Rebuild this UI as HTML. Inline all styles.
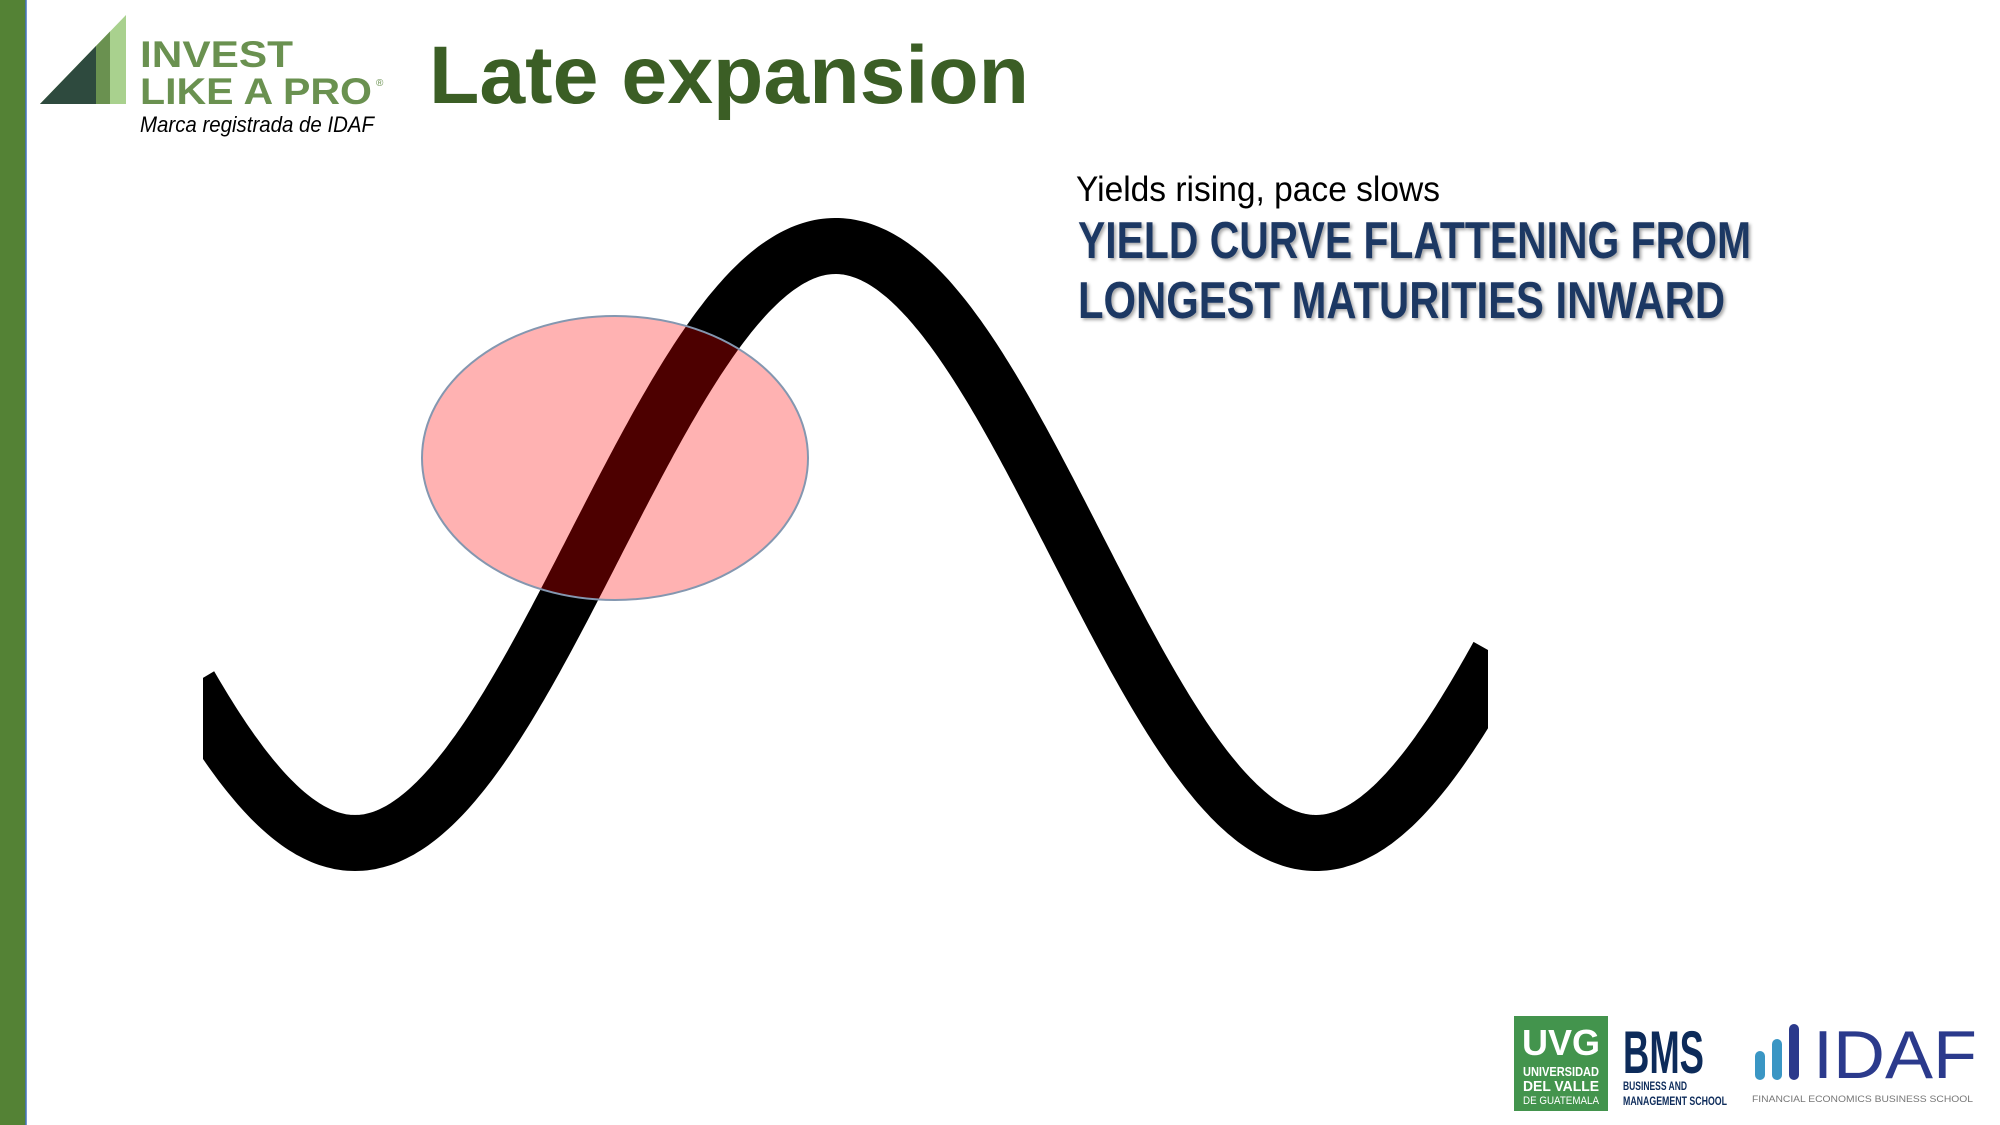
<!DOCTYPE html>
<html><head><meta charset="utf-8"><style>
html,body{margin:0;padding:0;background:#fff;}
svg{display:block;}
</style></head><body>
<svg id="slide" width="2000" height="1125" viewBox="0 0 2000 1125" xmlns="http://www.w3.org/2000/svg">
<defs>
<clipPath id="waveclip"><rect x="203" y="0" width="1285" height="1125"/></clipPath>
<filter id="sh" x="-5%" y="-20%" width="110%" height="150%"><feDropShadow dx="2" dy="2" stdDeviation="1.5" flood-color="#000" flood-opacity="0.35"/></filter>
</defs>
<rect x="0" y="0" width="2000" height="1125" fill="#fff"/>
<rect x="0" y="0" width="26" height="1125" fill="#548235"/>
<line x1="26" y1="0" x2="26" y2="1125" stroke="#4472c4" stroke-width="1.5"/>

<g>
<polygon points="40,104 126,15 126,104" fill="#a9d18e"/>
<polygon points="40,104 110,31.5 110,104" fill="#6a9150"/>
<polygon points="40,104 96,46 96,104" fill="#2e4a3e"/>
<text x="140" y="67" font-family="Liberation Sans, sans-serif" font-weight="bold" font-size="37" fill="#6a9150" textLength="153" lengthAdjust="spacingAndGlyphs">INVEST</text>
<text x="140" y="104" font-family="Liberation Sans, sans-serif" font-weight="bold" font-size="37" fill="#6a9150" textLength="232" lengthAdjust="spacingAndGlyphs">LIKE A PRO</text>
<text x="376" y="86" font-family="Liberation Sans, sans-serif" font-size="10" fill="#6a9150">®</text>
<text x="140" y="132" font-family="Liberation Sans, sans-serif" font-style="italic" font-size="22" fill="#000" textLength="234" lengthAdjust="spacingAndGlyphs">Marca registrada de IDAF</text>
</g>

<text x="429" y="103" font-family="Liberation Sans, sans-serif" font-weight="bold" font-size="82" fill="#3b5e25" textLength="600" lengthAdjust="spacingAndGlyphs">Late expansion</text>

<text x="1076" y="201" font-family="Liberation Sans, sans-serif" font-size="35" fill="#000" textLength="364" lengthAdjust="spacingAndGlyphs">Yields rising, pace slows</text>
<g filter="url(#sh)">
<text x="1078" y="258" font-family="Liberation Sans, sans-serif" font-weight="bold" font-size="52" fill="#1f3864" textLength="673" lengthAdjust="spacingAndGlyphs">YIELD CURVE FLATTENING FROM</text>
<text x="1078" y="318" font-family="Liberation Sans, sans-serif" font-weight="bold" font-size="52" fill="#1f3864" textLength="647" lengthAdjust="spacingAndGlyphs">LONGEST MATURITIES INWARD</text>
</g>

<g clip-path="url(#waveclip)">
<path id="wave" fill="none" stroke="#000" stroke-width="56"/>
</g>
<ellipse cx="615" cy="458" rx="193" ry="142" fill="rgb(255,0,0)" fill-opacity="0.3" stroke="#8497b0" stroke-width="2"/>

<g>
<rect x="1514" y="1016" width="94" height="95" fill="#43944d"/>
<text x="1561" y="1055" text-anchor="middle" font-family="Liberation Sans, sans-serif" font-weight="bold" font-size="36" fill="#fff" textLength="78" lengthAdjust="spacingAndGlyphs">UVG</text>
<text x="1561" y="1076" text-anchor="middle" font-family="Liberation Sans, sans-serif" font-weight="bold" font-size="13" fill="#fff" textLength="76" lengthAdjust="spacingAndGlyphs">UNIVERSIDAD</text>
<text x="1561" y="1091" text-anchor="middle" font-family="Liberation Sans, sans-serif" font-weight="bold" font-size="15" fill="#fff" textLength="76" lengthAdjust="spacingAndGlyphs">DEL VALLE</text>
<text x="1561" y="1104" text-anchor="middle" font-family="Liberation Sans, sans-serif" font-size="11" fill="#fff" textLength="76" lengthAdjust="spacingAndGlyphs">DE GUATEMALA</text>
</g>
<g>
<text x="1623" y="1073" font-family="Liberation Sans Narrow, Liberation Sans, sans-serif" font-weight="bold" font-size="60" fill="#0d2b5a" textLength="81" lengthAdjust="spacingAndGlyphs">BMS</text>
<text x="1623" y="1090" font-family="Liberation Sans Narrow, Liberation Sans, sans-serif" font-weight="bold" font-size="12" fill="#0d2b5a" textLength="64" lengthAdjust="spacingAndGlyphs">BUSINESS AND</text>
<text x="1623" y="1105" font-family="Liberation Sans Narrow, Liberation Sans, sans-serif" font-weight="bold" font-size="12" fill="#0d2b5a" textLength="104" lengthAdjust="spacingAndGlyphs">MANAGEMENT SCHOOL</text>
</g>
<g>
<rect x="1755" y="1051" width="10" height="29" rx="5" fill="#3a96c4"/>
<rect x="1772" y="1039" width="10" height="41" rx="5" fill="#3a96c4"/>
<rect x="1789" y="1024" width="10" height="56" rx="5" fill="#2b3a8c"/>
<text x="1813" y="1078" font-family="Liberation Sans, sans-serif" font-size="68" fill="#2b3a8c" textLength="164" lengthAdjust="spacingAndGlyphs" style="font-weight:100">IDAF</text>
<text x="1752" y="1102" font-family="Liberation Sans, sans-serif" font-size="9" fill="#777" textLength="221" lengthAdjust="spacingAndGlyphs">FINANCIAL ECONOMICS BUSINESS SCHOOL</text>
</g>
</svg>
<script>
// wave parameters (key points of the cycle)
const troughX = [355, 1316];
const peakX = [836];
const troughY = 843;
const peakY = 246;
const startX = 190, endX = 1500;
const period = troughX[1] - troughX[0];
const mid = (troughY + peakY) / 2, amp = (troughY - peakY) / 2;
let d = '';
for (let x = startX; x <= endX; x += 3) {
  const y = mid + amp * Math.cos(2 * Math.PI * (x - troughX[0]) / period);
  d += (d ? 'L' : 'M') + x.toFixed(1) + ',' + y.toFixed(1);
}
document.getElementById('wave').setAttribute('d', d);
</script>
</body></html>
